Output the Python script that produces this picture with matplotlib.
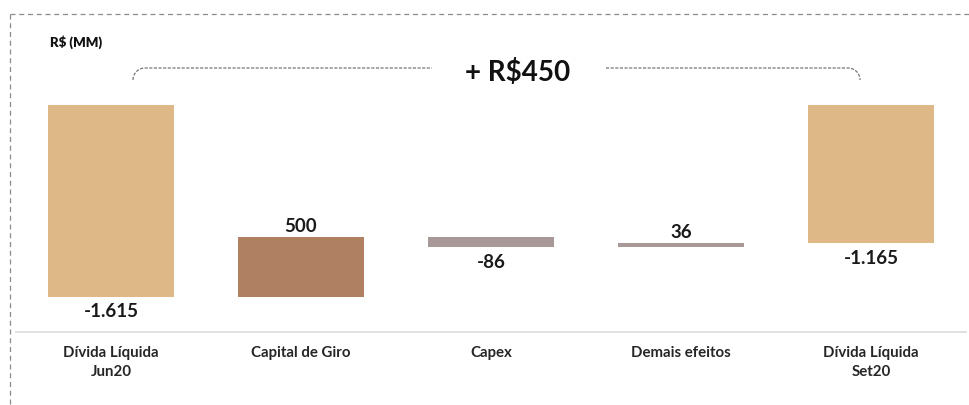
import numpy as np
import matplotlib
matplotlib.use("Agg")
import matplotlib.pyplot as plt

plt.rcParams['font.family'] = ['Lato', 'DejaVu Sans']

# data
categories = ['Dívida Líquida\nJun20', 'Capital de Giro', 'Capex', 'Demais efeitos', 'Dívida Líquida\nSet20']
values = [-1615, 500, -86, 36, -1165]
labels = ['-1.615', '500', '-86', '36', '-1.165']
is_total = [True, False, False, False, True]
colors = ['#DEB887', '#B08062', '#A89898', '#A89898', '#DEB887']
delta_text = '+ R$450'
unit_text = 'R$ (MM)'

W, H = 969, 405
fig = plt.figure(figsize=(W / 100, H / 100), dpi=100)

# bars axis: zero line at pixel 105, ~8.43 units per pixel, bars 190 px apart
ax = fig.add_axes([0, 0, 1, 1])
upp = 8.43
ax.set_ylim(-(H - 105) * upp, 105 * upp)
ax.set_xlim(-111 / 190, (W - 111) / 190)
ax.axis('off')

x = np.arange(len(values))
bottoms = []
running = 0
for i, v in enumerate(values):
    if is_total[i]:
        bottoms.append(0)
        running = v
    else:
        bottoms.append(running)
        running += v
ax.bar(x, values, bottom=bottoms, width=126 / 190, color=colors, zorder=2)

for i, v in enumerate(values):
    b = bottoms[i]
    top = b + v
    if v < 0:
        y = min(b, top) - 15 * upp
    else:
        y = max(b, top) + 11 * upp
    ax.text(x[i], y, labels[i], ha='center', va='center', fontsize=13.5,
            fontweight='bold', color='#1a1a1a')

for i, c in enumerate(categories):
    ax.text(x[i], -(346 - 105) * upp, c, ha='center', va='top', fontsize=10.8,
            fontweight='bold', color='#262626', linespacing=1.45)

# decoration overlay in pixel coordinates
ov = fig.add_axes([0, 0, 1, 1], zorder=3)
ov.set_xlim(0, W)
ov.set_ylim(H, 0)
ov.axis('off')
ov.patch.set_alpha(0)

border = dict(color='#8c8c8c', lw=0.9, ls=(0, (4, 3)))
ov.plot([10, W], [14, 14], **border)
ov.plot([10, 10], [14, H], **border)

ov.plot([16, W - 3], [332, 332], color='#dcdcdc', lw=1.2)

brk = dict(color='#777777', lw=0.9, ls=(0, (2.5, 1.2)))
r = 12
t = np.linspace(np.pi, 1.5 * np.pi, 20)
ov.plot(np.r_[145 + r * np.cos(t), 432], np.r_[80 + r * np.sin(t), 68], **brk)
t2 = np.linspace(1.5 * np.pi, 2 * np.pi, 20)
ov.plot(np.r_[606, 848 + r * np.cos(t2)], np.r_[68, 80 + r * np.sin(t2)], **brk)

ov.text(518, 72, delta_text, ha='center', va='center', fontsize=20,
        fontweight='bold', color='#111111')
ov.text(50, 42, unit_text, ha='left', va='center', fontsize=9.5,
        fontweight='heavy', color='#111111')

fig.savefig('out.png', dpi=100)
